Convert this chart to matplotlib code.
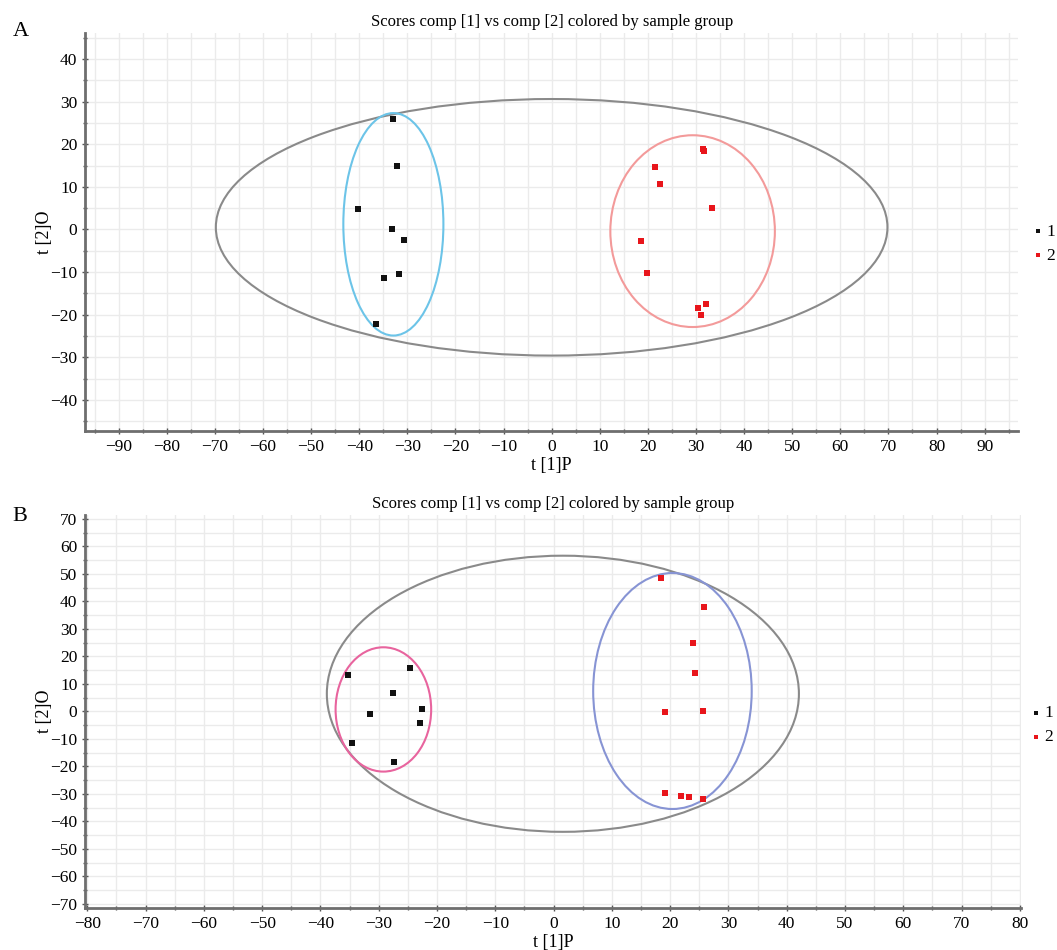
import matplotlib
matplotlib.use("Agg")
from matplotlib import pyplot as plt
from matplotlib.patches import Ellipse
from matplotlib.ticker import MultipleLocator

plt.rcParams["font.family"] = ["Liberation Serif", "DejaVu Serif"]

# Panel A scores
a_g1_x = [-32.9, -32.2, -40.2, -33.2, -30.6, -34.9, -31.8, -36.5]
a_g1_y = [25.8, 15.0, 4.8, 0.2, -2.5, -11.4, -10.5, -22.2]
a_g2_x = [31.5, 31.7, 21.4, 22.5, 33.4, 18.5, 19.9, 32.1, 30.4, 31.1]
a_g2_y = [18.9, 18.4, 14.6, 10.7, 5.0, -2.7, -10.2, -17.6, -18.5, -20.0]

# Panel B scores
b_g1_x = [-35.3, -24.7, -27.5, -31.5, -22.5, -23.0, -34.5, -27.4]
b_g1_y = [13.4, 15.6, 6.6, -0.8, 0.8, -4.3, -11.6, -18.5]
b_g2_x = [18.4, 25.9, 24.0, 24.2, 19.1, 25.6, 19.1, 21.9, 23.2, 25.6]
b_g2_y = [48.5, 38.1, 25.0, 14.0, -0.2, 0.2, -29.6, -30.6, -31.0, -31.8]

# ellipses: (center x, center y, half width, half height)
a_hotelling = (0.0, 0.5, 69.8, 30.1)
a_g1_ellipse = (-32.9, 1.2, 10.4, 26.1)
a_g2_ellipse = (29.3, -0.4, 17.1, 22.5)
b_hotelling = (1.6, 6.4, 40.5, 50.2)
b_g1_ellipse = (-29.2, 0.7, 8.2, 22.6)
b_g2_ellipse = (20.4, 7.4, 13.6, 42.9)

title = "Scores comp [1] vs comp [2] colored by sample group"
group_labels = ["1", "2"]
black = "#111111"
red = "#e8151b"


def draw_panel(ax, g1x, g1y, g2x, g2y, ellipses, xlim, ylim, legend_pos):
    ax.set_xlim(*xlim)
    ax.set_ylim(*ylim)
    ax.xaxis.set_major_locator(MultipleLocator(10))
    ax.xaxis.set_minor_locator(MultipleLocator(5))
    ax.yaxis.set_major_locator(MultipleLocator(10))
    ax.yaxis.set_minor_locator(MultipleLocator(5))
    ax.grid(True, which="both", color="#ebebeb", linewidth=1.0)
    ax.set_axisbelow(True)
    for s in ["top", "right"]:
        ax.spines[s].set_visible(False)
    for s in ["left", "bottom"]:
        ax.spines[s].set_color("#6e6e6e")
        ax.spines[s].set_linewidth(2.0)
    ax.tick_params(which="both", direction="inout", color="#555555",
                   labelsize=12.5, length=4, width=1)
    ax.tick_params(which="minor", length=3)

    for (cx, cy, rx, ry), col in ellipses:
        ax.add_patch(Ellipse((cx, cy), 2 * rx, 2 * ry, fill=False,
                             edgecolor=col, linewidth=1.5))

    ax.scatter(g1x, g1y, marker="s", s=18, color=black, label=group_labels[0],
               zorder=3, linewidths=0)
    ax.scatter(g2x, g2y, marker="s", s=18, color=red, label=group_labels[1],
               zorder=3, linewidths=0)

    ax.set_title(title, fontsize=12, pad=5)
    ax.set_xlabel("t [1]P", fontsize=13, labelpad=2)
    ax.set_ylabel("t [2]O", fontsize=13, labelpad=-2)
    ax.legend(loc="center left", bbox_to_anchor=legend_pos, frameon=False,
              borderpad=0, borderaxespad=0, handlelength=0.5,
              handletextpad=0.25, fontsize=12.5, markerscale=0.75,
              labelspacing=0.45)


fig = plt.figure(figsize=(10.57, 9.5), dpi=100)
ax_a = fig.add_axes([0.0804, 0.5463, 0.883, 0.419])
ax_b = fig.add_axes([0.0804, 0.0442, 0.8855, 0.4137])

draw_panel(ax_a, a_g1_x, a_g1_y, a_g2_x, a_g2_y,
           [(a_hotelling, "#8a8a8a"), (a_g1_ellipse, "#6cc4e8"),
            (a_g2_ellipse, "#f39a9a")],
           (-97, 97), (-47.3, 46.1), (1.016, 0.47))
draw_panel(ax_b, b_g1_x, b_g1_y, b_g2_x, b_g2_y,
           [(b_hotelling, "#8a8a8a"), (b_g1_ellipse, "#e8649e"),
            (b_g2_ellipse, "#8794d4")],
           (-80.4, 80.2), (-71.5, 71.4), (1.011, 0.465))

fig.text(0.012, 0.962, "A", fontsize=16)
fig.text(0.012, 0.452, "B", fontsize=16)

fig.savefig("out.png", dpi=100)
